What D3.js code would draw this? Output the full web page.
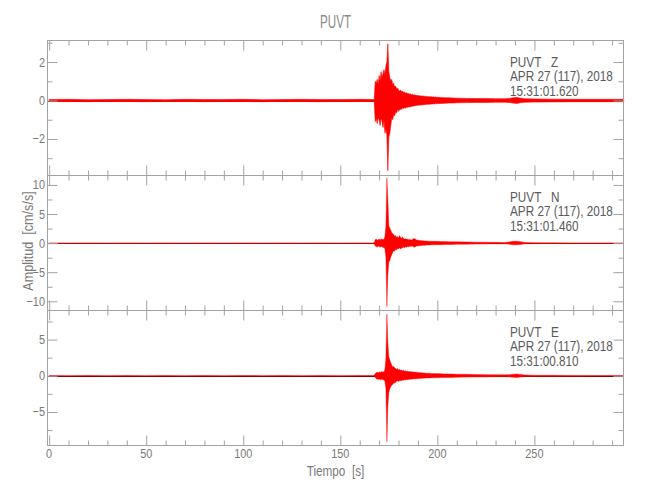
<!DOCTYPE html>
<html><head><meta charset="utf-8">
<script src="https://cdn.jsdelivr.net/npm/d3@7"></script>
<style>
body{margin:0;background:#fff}
svg{display:block}
text{font-family:"Liberation Sans",Arial,sans-serif}
</style>
</head><body>
<svg id="c" width="650" height="500"></svg>
<script>
// ---------- DATA ----------
const title = "PUVT";
const xLabel = "Tiempo  [s]";
const yLabel = "Amplitud  [cm/s/s]";
const xTickLabels = [0, 50, 100, 150, 200, 250];

// envelope knots (seconds)
const timeS = [
  0,10,20,30,40,50,60,70,80,90,100,110,120,130,140,150,160,167,
  167.5,168,168.5,169,169.5,170,170.5,171,171.5,172,
  172.5,173,173.5,174,174.5,175,175.5,176,176.5,177,
  177.5,178,178.5,179,179.5,180,180.5,181,181.5,182,
  182.5,183,183.5,184,184.5,185,185.5,186,186.5,187,
  187.5,188,188.5,189,189.5,190,190.5,191,191.5,192,
  192.5,193,193.5,194,194.5,195,195.5,196,196.5,197,
  197.5,198,198.5,199,199.5,200,
  202,204,206,208,210,215,220,225,230,235,237,239,241,243,245,250,260,270,280,290,296
];

// Z component (upper / lower envelope)
const zHi = [
  .05,.06,.04,.05,.06,.05,.04,.06,.05,.05,.06,.04,.05,.06,.05,.05,.06,.05,
  .06,1.0,.9,1.1,.85,1.3,1.0,1.5,1.2,1.4,
  1.6,1.35,1.8,2.0,2.95,1.5,1.2,1.0,1.1,.8,
  .9,.7,.75,.6,.65,.55,.5,.55,.45,.5,
  .42,.45,.38,.4,.36,.38,.33,.35,.3,.32,
  .28,.3,.27,.28,.25,.27,.24,.25,.23,.24,
  .22,.23,.21,.22,.2,.21,.2,.2,.19,.2,
  .18,.19,.17,.18,.17,.17,
  .15,.14,.14,.13,.12,.11,.1,.1,.09,.09,.11,.14,.16,.12,.09,.08,.07,.06,.06,.06,.06
];
const zLo = [
  -.05,-.05,-.06,-.04,-.05,-.06,-.05,-.04,-.06,-.05,-.05,-.06,-.04,-.05,-.06,-.05,-.04,-.05,
  -.06,-1.1,-.9,-1.2,-.9,-1.0,-1.3,-.9,-1.1,-1.4,
  -1.0,-1.7,-1.5,-1.8,-3.65,-1.9,-1.7,-1.3,-.9,-1.0,
  -.7,-.8,-.6,-.65,-.5,-.55,-.5,-.45,-.45,-.4,
  -.42,-.38,-.4,-.35,-.37,-.33,-.35,-.31,-.32,-.29,
  -.3,-.27,-.28,-.25,-.26,-.24,-.25,-.23,-.24,-.22,
  -.23,-.21,-.22,-.2,-.21,-.19,-.2,-.19,-.19,-.18,
  -.18,-.17,-.18,-.16,-.17,-.16,
  -.15,-.14,-.13,-.13,-.12,-.11,-.1,-.1,-.09,-.09,-.1,-.13,-.15,-.11,-.09,-.08,-.07,-.06,-.06,-.06,-.06
];

// N component
const nHi = [
  .03,.02,.03,.02,.03,.02,.03,.02,.03,.02,.03,.02,.03,.02,.03,.02,.03,.03,
  .1,.6,.7,.5,.6,.7,.5,.8,.6,.7,
  .6,1.2,3.0,11.2,7.5,3.0,2.6,2.2,1.8,1.6,
  1.5,1.2,1.3,1.0,1.1,.9,1.3,1.0,.8,1.1,
  .8,.7,.75,.65,.7,.6,.65,.6,.55,.6,
  .7,.8,.75,.6,.55,.5,.5,.45,.45,.42,
  .4,.4,.38,.38,.36,.35,.34,.34,.33,.32,
  .32,.31,.3,.3,.3,.3,
  .28,.26,.25,.24,.22,.2,.17,.15,.13,.12,.2,.3,.32,.25,.12,.08,.05,.04,.03,.03,.03
];
const nLo = [
  -.02,-.03,-.02,-.03,-.02,-.03,-.02,-.03,-.02,-.03,-.02,-.03,-.02,-.03,-.02,-.03,-.02,-.03,
  -.1,-.5,-.6,-.7,-.5,-.6,-.7,-.6,-.6,-.8,
  -.7,-1.0,-2.5,-10.9,-5.5,-3.3,-3.0,-2.4,-2.0,-1.6,
  -1.3,-1.4,-1.0,-1.2,-.9,-1.0,-.8,-1.0,-.9,-.8,
  -.7,-.8,-.65,-.7,-.6,-.65,-.55,-.6,-.55,-.5,
  -.6,-.7,-.65,-.55,-.5,-.48,-.45,-.45,-.42,-.4,
  -.38,-.38,-.36,-.35,-.34,-.33,-.33,-.32,-.31,-.3,
  -.3,-.3,-.29,-.28,-.28,-.28,
  -.27,-.25,-.24,-.22,-.2,-.18,-.16,-.14,-.12,-.12,-.18,-.28,-.3,-.22,-.12,-.08,-.05,-.04,-.03,-.03,-.03
];

// E component
const eHi = [
  .03,.02,.03,.02,.03,.02,.03,.02,.03,.02,.03,.02,.03,.02,.03,.02,.03,.03,
  .1,.3,.45,.5,.4,.55,.45,.6,.5,.6,
  .5,.9,2.5,8.5,4.6,2.6,2.2,1.8,1.5,1.2,
  1.3,1.1,1.0,.9,1.0,.8,.9,.75,.8,.7,
  .75,.65,.7,.6,.65,.6,.6,.55,.58,.52,
  .55,.5,.52,.48,.5,.45,.46,.42,.44,.4,
  .4,.38,.38,.36,.36,.35,.34,.34,.33,.32,
  .32,.31,.3,.3,.3,.3,
  .28,.26,.25,.24,.22,.2,.18,.16,.14,.13,.16,.22,.24,.18,.12,.08,.06,.05,.04,.03,.03
];
const eLo = [
  -.02,-.03,-.02,-.03,-.02,-.03,-.02,-.03,-.02,-.03,-.02,-.03,-.02,-.03,-.02,-.03,-.02,-.03,
  -.1,-.25,-.4,-.45,-.5,-.4,-.55,-.5,-.45,-.6,
  -.5,-.8,-1.8,-9.1,-4.2,-2.3,-1.8,-1.5,-1.3,-1.2,
  -1.0,-1.0,-.9,-.8,-.7,-.8,-.7,-.7,-.65,-.6,
  -.6,-.55,-.58,-.5,-.55,-.5,-.5,-.46,-.48,-.44,
  -.45,-.42,-.44,-.4,-.42,-.38,-.38,-.36,-.36,-.34,
  -.34,-.33,-.32,-.32,-.31,-.3,-.3,-.29,-.29,-.28,
  -.28,-.28,-.27,-.27,-.26,-.26,
  -.25,-.24,-.23,-.22,-.2,-.18,-.16,-.15,-.13,-.12,-.15,-.2,-.22,-.17,-.11,-.08,-.06,-.05,-.04,-.03,-.03
];

const components = ["Z", "N", "E"];
const startTimes = ["15:31:01.620", "15:31:01.460", "15:31:00.810"];
const dateLabel = "APR 27 (117), 2018";
const yMajorTicks = [[-2, 0, 2], [-10, -5, 0, 5, 10], [-5, 0, 5]];
const yMinorTicks = [[-3, -1, 1, 3], [-7.5, -2.5, 2.5, 7.5], [-7.5, -2.5, 2.5, 7.5]];
const yDomains = [[-3.9, 3.12], [-11.58, 11.62], [-9.63, 9.02]];

// ---------- LAYOUT ----------
const L = 47.5, R = 623.5;
const tops = [40.5, 175.5, 310.5], bots = [175.5, 310.5, 445.5];
const frameCol = "#a3a3a3", tickTextCol = "#7a7a7a", infoCol = "#5a5a5a";
const SX = 0.84; // horizontal squeeze to mimic the narrow plotter font

const svg = d3.select("#c");
const x = d3.scaleLinear().domain([-0.85, 295.9]).range([L, R]);
const xMinor = d3.range(10, 296, 10).filter(v => v % 50 !== 0);

function addText(parent, px, py, str, opts) {
  const o = Object.assign({size: 13, anchor: "start", fill: tickTextCol, rotate: 0}, opts || {});
  const g = parent.append("g")
    .attr("transform", `translate(${px},${py})` + (o.rotate ? ` rotate(${o.rotate})` : "") + ` scale(${SX},1)`);
  g.append("text")
    .attr("text-anchor", o.anchor).attr("font-size", o.size).attr("fill", o.fill)
    .style("white-space", "pre").text(str);
  return g;
}

const his = [zHi, nHi, eHi], los = [zLo, nLo, eLo];

components.forEach((comp, i) => {
  const y = d3.scaleLinear().domain(yDomains[i]).range([bots[i], tops[i]]);
  const g = svg.append("g");

  // zero line
  const y0 = Math.round(y(0)) + 0.5;
  g.append("line")
    .attr("x1", L).attr("x2", R).attr("y1", y0).attr("y2", y0)
    .attr("stroke", i === 0 ? "#ff0000" : "#6a0000").attr("stroke-width", 1);

  // trace envelope
  const area = d3.area()
    .x((d, k) => x(timeS[k]))
    .y0((d, k) => y(los[i][k]))
    .y1((d, k) => y(his[i][k]));
  g.append("path")
    .attr("d", area(timeS))
    .attr("fill", "#ff0000")
    .attr("stroke", "#ff0000")
    .attr("stroke-width", i === 0 ? 0.6 : 0.4)
    .attr("stroke-linejoin", "round");

  // frame ticks
  const axG = g.append("g");
  const style = sel => { sel.select(".domain").remove(); sel.selectAll("line").attr("stroke", frameCol); };
  [[bots[i], d3.axisBottom], [tops[i], d3.axisTop]].forEach(([py, ax]) => {
    axG.append("g").attr("transform", `translate(0,${py})`)
      .call(ax(x).tickValues(xTickLabels).tickSize(-10).tickFormat("")).call(style);
    axG.append("g").attr("transform", `translate(0,${py})`)
      .call(ax(x).tickValues(xMinor).tickSize(-5).tickFormat("")).call(style);
  });
  [[L, d3.axisLeft], [R, d3.axisRight]].forEach(([px, ax]) => {
    axG.append("g").attr("transform", `translate(${px},0)`)
      .call(ax(y).tickValues(yMajorTicks[i]).tickSize(-10).tickFormat("")).call(style);
    axG.append("g").attr("transform", `translate(${px},0)`)
      .call(ax(y).tickValues(yMinorTicks[i]).tickSize(-5).tickFormat("")).call(style);
  });
  g.append("rect").attr("x", L).attr("y", tops[i]).attr("width", R - L).attr("height", bots[i] - tops[i])
    .attr("fill", "none").attr("stroke", frameCol).attr("stroke-width", 1);

  // y tick labels
  yMajorTicks[i].forEach(v => {
    addText(g, L - 2.5, y(v) + 4.5, v < 0 ? "\u2212" + Math.abs(v) : String(v), {anchor: "end", size: 13});
  });

  // info block
  const info = [`PUVT   ${comp}`, dateLabel, startTimes[i]];
  info.forEach((s, k) => addText(g, 510, tops[i] + 26 + k * 14.7, s, {size: 14, fill: infoCol}));
});

// x tick labels (bottom panel)
xTickLabels.forEach(v => addText(svg, x(v), 458, String(v), {anchor: "middle", size: 13}));

addText(svg, (L + R) / 2, 476, xLabel, {anchor: "middle", size: 14});
addText(svg, 33, 241, yLabel, {anchor: "middle", size: 15, rotate: -90});

svg.append("text").attr("x", (L + R) / 2).attr("y", 28)
  .attr("text-anchor", "middle").attr("font-size", 18).attr("fill", "#8a8a8a")
  .attr("textLength", 31).attr("lengthAdjust", "spacingAndGlyphs")
  .text(title);
</script>
</body></html>
